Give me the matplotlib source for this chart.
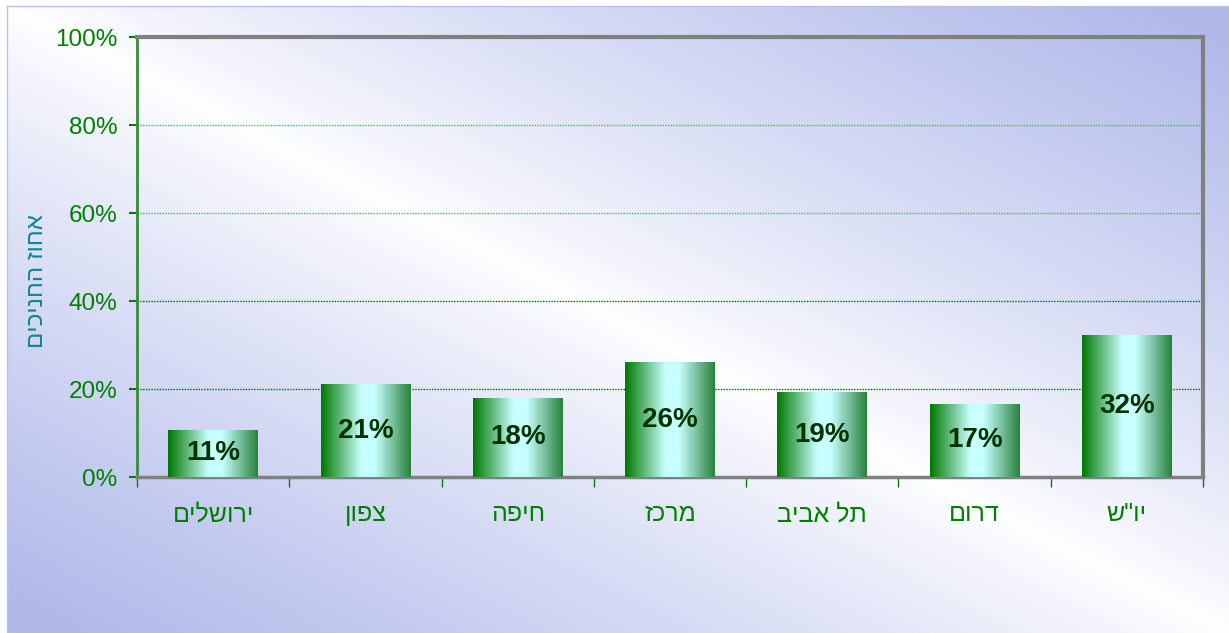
import matplotlib.pyplot as plt
import numpy as np

# 데이터
regions = ["ירושלים", "צפון", "חיפה", "מרכז", "תל אביב", "דרום", 'יו"ש']
values = [10.7, 21.1, 18.0, 26.1, 19.3, 16.6, 32.3]
value_labels = ["11%", "21%", "18%", "26%", "19%", "17%", "32%"]
yticks = [0, 20, 40, 60, 80, 100]
ylabel = "אחוז החניכים"

# matplotlib은 RTL을 지원하지 않으므로 글자 순서를 뒤집는다
def rtl(s):
    return s[::-1]

plt.rcParams['font.family'] = ['Liberation Sans', 'DejaVu Sans']

fig = plt.figure(figsize=(12.29, 6.33), dpi=100)
fig.patch.set_facecolor('white')

# 배경 그라데이션
bg = fig.add_axes([7 / 1229, 0, 1 - 7 / 1229, 1 - 6 / 633])
bg.set_zorder(-10)
W, H = 400, 200
u = np.linspace(0, 1, W)[None, :]
v = np.linspace(0, 1, H)[:, None]
t = np.clip(np.abs(u - v) * 1.05, 0, 1) ** 0.85
blue = np.array([176, 185, 234]) / 255.0
img = (1 - t[..., None]) * np.array([1, 1, 1]) + t[..., None] * blue
bg.imshow(img, aspect='auto', extent=[0, 1, 1, 0], interpolation='bilinear')
bg.set_xlim(0, 1)
bg.set_ylim(1, 0)
bg.set_xticks([])
bg.set_yticks([])
for s in bg.spines.values():
    s.set_color('#b8c0f0')
    s.set_linewidth(1)
bg.spines['bottom'].set_visible(False)
bg.spines['right'].set_visible(False)

ax = fig.add_axes([137 / 1229, 1 - 477 / 633, (1203 - 137) / 1229, (477 - 37) / 633])
ax.patch.set_alpha(0)

x = np.arange(len(regions))
bars = ax.bar(x, values, width=0.59, color='none', edgecolor='none', zorder=3)

# 막대 그라데이션
g = np.linspace(0, 1, 200)
c_left = np.array([0, 120, 0]) / 255.0
c_mid = np.array([200, 255, 255]) / 255.0
c_right = np.array([40, 130, 60]) / 255.0
grad = np.zeros((1, 200, 3))
for i, p in enumerate(g):
    if p < 0.45:
        k = p / 0.45
        grad[0, i] = c_left * (1 - k) + c_mid * k
    elif p < 0.6:
        grad[0, i] = c_mid
    else:
        k = (p - 0.6) / 0.4
        grad[0, i] = c_mid * (1 - k) + c_right * k

for b in bars:
    x0, w, h = b.get_x(), b.get_width(), b.get_height()
    im = ax.imshow(grad, aspect='auto', extent=[x0, x0 + w, 0, h], zorder=3,
                   interpolation='bilinear')
    im.set_clip_path(b)

ax.bar_label(bars, labels=value_labels, label_type='center', fontsize=20,
             fontweight='bold', color='#003300', zorder=5)

ax.set_xlim(-0.5, len(regions) - 0.5)
ax.set_ylim(0, 100)
ax.set_yticks(yticks)
ax.set_yticklabels([f"{t}%" for t in yticks], fontsize=17.5, color='#008000')
ax.set_xticks(x)
ax.set_xticklabels([rtl(r) for r in regions], fontsize=18, color='#008000')
ax.set_xticks(np.arange(len(regions) + 1) - 0.5, minor=True)
ax.tick_params(axis='x', which='major', length=0, pad=18)
ax.tick_params(axis='x', which='minor', length=7, color='#008000', width=1)
ax.tick_params(axis='y', length=6, color='#008000', width=1.5, pad=8)

ax.yaxis.grid(True, linestyle=(0, (1, 1)), linewidth=1)
grid_colors = ['none', '#006400', '#006400', '#5aaa6a', '#5aaa6a', 'none']
for gl, c in zip(ax.get_ygridlines(), grid_colors):
    gl.set_color(c)
ax.set_axisbelow(True)

ax.spines['left'].set_color('#3a8a3a')
ax.spines['left'].set_linewidth(2)
ax.spines['bottom'].set_color('#808080')
ax.spines['bottom'].set_linewidth(2.5)
ax.spines['top'].set_color('#808080')
ax.spines['top'].set_linewidth(3)
ax.spines['right'].set_color('#808080')
ax.spines['right'].set_linewidth(3)

ax.text(-0.094, 0.445, rtl(ylabel), transform=ax.transAxes, rotation=90,
        fontsize=17.5, color='#108890', ha='center', va='center')

fig.savefig('out.png', dpi=100)
